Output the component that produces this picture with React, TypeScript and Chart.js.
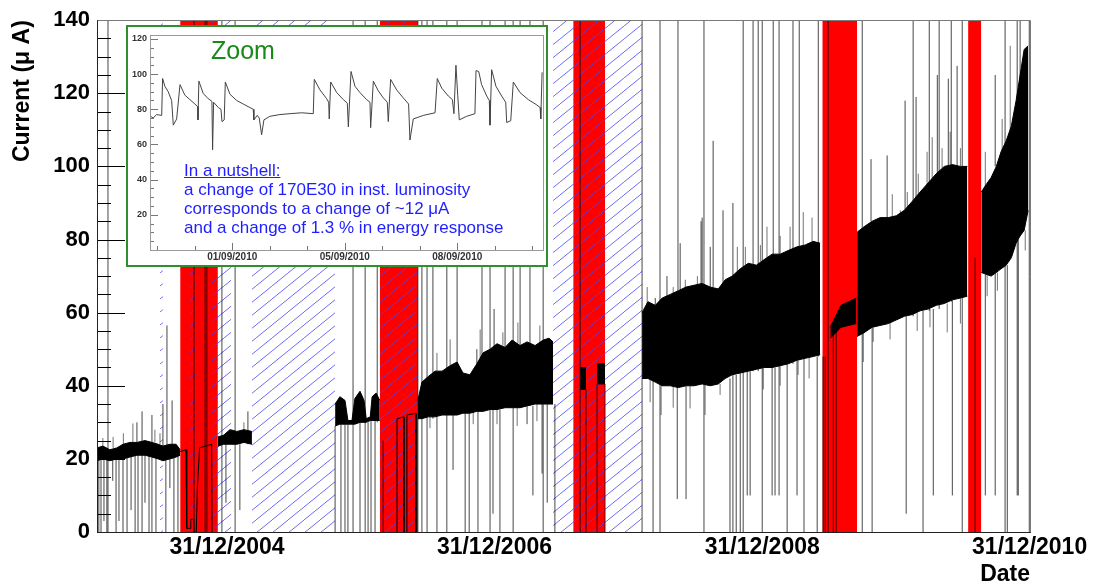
import React, { useEffect, useRef } from 'react';
import { Chart, registerables } from 'chart.js';

Chart.register(...registerables);

const FONT = '"Liberation Sans", Arial, Helvetica, sans-serif';

// ---------------- main chart: axes ----------------
const xAxisMin = '2004-01-11';
const xAxisMax = '2011-01-01';
const xTickDates = ['2004-12-31', '2006-12-31', '2008-12-31', '2010-12-31'];
const yAxisMax = 140;
const yMajorStep = 20;
const yMinorStep = 5;

// shutdown periods (red) and hatched periods
const shutdownStart = ['2004-08-25', '2006-02-21', '2007-08-03', '2009-06-13', '2010-07-16'];
const shutdownEnd = ['2004-12-06', '2006-06-05', '2007-10-29', '2009-09-16', '2010-08-21'];
const hatchStart = ['2004-07-01', '2004-09-21', '2004-11-20', '2005-03-09', '2006-02-21', '2007-06-09'];
const hatchEnd = ['2004-07-09', '2004-10-07', '2005-01-11', '2005-10-22', '2006-06-05', '2008-02-07'];

// dense current band: lower / upper envelope (null = gap between runs)
const bandDates = [
  '2004-01-11', '2004-01-27', '2004-02-15', '2004-03-05', '2004-03-22', '2004-04-10', '2004-04-29', '2004-05-21', '2004-06-09', '2004-06-26', '2004-07-09', '2004-07-28', '2004-08-14', '2004-08-25', null,
  '2004-12-06', '2004-12-22', '2005-01-08', '2005-01-27', '2005-02-15', '2005-03-09', null,
  '2005-10-22', '2005-11-04', '2005-11-18', '2005-11-26', '2005-12-07', '2005-12-15', '2005-12-29', '2006-01-09', '2006-01-15', '2006-01-26', '2006-01-31', '2006-02-11', '2006-02-21', null,
  '2006-06-05', '2006-06-16', '2006-07-03', '2006-07-22', '2006-08-10', '2006-09-01', '2006-09-20', '2006-10-06', '2006-10-25', '2006-11-13', '2006-11-30', '2006-12-19', '2007-01-07', '2007-01-29', '2007-02-17', '2007-03-11', '2007-03-30', '2007-04-21', '2007-05-13', '2007-05-29', '2007-06-09', null,
  '2007-08-22', '2007-09-07', null,
  '2007-10-07', '2007-10-29', null,
  '2008-02-07', '2008-02-23', '2008-03-14', '2008-04-02', '2008-04-24', '2008-05-16', '2008-06-06', '2008-06-28', '2008-07-20', '2008-08-11', '2008-09-02', '2008-09-21', '2008-10-10', '2008-11-01', '2008-11-23', '2008-12-15', '2009-01-05', '2009-01-27', '2009-02-18', '2009-03-12', '2009-04-05', '2009-04-27', '2009-05-19', '2009-06-07', null,
  '2009-07-05', '2009-08-03', '2009-09-14', null,
  '2009-09-16', '2009-10-05', '2009-10-27', '2009-11-18', '2009-12-10', '2010-01-01', '2010-01-23', '2010-02-14', '2010-03-07', '2010-03-29', '2010-04-20', '2010-05-12', '2010-06-03', '2010-06-25', '2010-07-14', null,
  '2010-08-21', '2010-09-03', '2010-09-17', '2010-10-01', '2010-10-14', '2010-10-28', '2010-11-11', '2010-11-24', '2010-12-05', '2010-12-16', '2010-12-27',
];
const bandLow = [
  19.5, 20, 19.5, 20, 20, 20.5, 21, 21, 20.5, 20, 19.5, 20, 20.5, 21, null,
  23.5, 24, 24, 24, 24.5, 24, null,
  29, 29.5, 29.5, 29.5, 29.5, 29.5, 30, 30, 30, 30.5, 30.5, 30.5, 30.5, null,
  31, 31, 31.5, 31.5, 32, 32, 32, 32.5, 32.5, 33, 33, 33.5, 33.5, 34, 34, 34, 34.5, 35, 35, 35, 35, null,
  39, 39, null,
  40.5, 40.5, null,
  42, 42, 41, 40, 40, 39.5, 40, 40, 40.5, 40, 40.5, 42, 43, 43.5, 44, 44.5, 45, 45, 45.5, 46, 47, 47.5, 48, 48.5, null,
  53, 56, 57, null,
  53.5, 54.5, 56, 56.5, 57, 58, 59, 59.5, 60.5, 61, 62, 62.5, 63.5, 64, 64.5, null,
  71, 70.5, 70, 71, 72, 73, 75, 79, 81, 82.5, 88,
];
const bandHigh = [
  23, 23.5, 22.5, 23, 24, 24.5, 24.5, 25, 24.5, 24, 23.5, 24, 24, 22.5, null,
  26, 26.5, 28, 27.5, 28, 27.5, null,
  35, 37, 36, 30.5, 30.5, 36.5, 38.5, 36, 31, 31.5, 37, 38, 36, null,
  36, 41, 42.5, 44, 44, 45.5, 46.5, 43.5, 43, 46, 49, 50, 51.5, 50.5, 52.5, 51, 52, 51, 52.5, 53, 52, null,
  45, 45, null,
  46, 46, null,
  60, 63, 62, 64, 65, 66, 67, 67.5, 68, 67, 66.5, 69, 70, 72, 73.5, 73, 74.5, 76, 76, 77, 78, 78.5, 79.5, 79, null,
  56, 62, 64, null,
  82, 83.5, 85, 86, 86, 86.5, 88, 90.5, 93, 95.5, 98, 100, 100.5, 100, 100, null,
  93, 95, 97, 100, 104, 107, 111, 118, 125, 132, 133,
];

// isolated excursions (vertical lines): date, lowest value, highest value
const spikeDates = [
  '2004-02-10', '2004-01-16', '2004-01-22', '2004-01-30', '2004-02-07', '2004-02-23', '2004-03-03', '2004-03-11', '2004-03-22', '2004-04-02',
  '2004-04-13', '2004-04-24', '2004-04-29', '2004-05-02', '2004-05-13', '2004-05-21', '2004-06-01', '2004-06-09', '2004-06-20', '2004-07-09',
  '2004-07-17', '2004-07-20', '2004-07-28', '2004-08-03', '2004-08-08', '2004-08-19',
  '2004-10-02', '2004-11-01', '2004-11-06',
  '2004-12-17', '2004-12-28', '2005-01-22', '2005-02-04', '2005-02-26',
  '2005-10-22', '2005-11-07', '2005-11-18', '2005-11-26', '2005-12-10', '2005-12-29', '2006-01-12', '2006-01-20', '2006-01-28', '2006-02-08', '2006-02-14',
  '2006-03-02', '2006-06-05',
  '2006-06-16', '2006-06-30', '2006-07-16', '2006-07-27', '2006-08-23', '2006-09-09', '2006-09-20', '2006-10-12', '2006-10-23', '2006-11-13',
  '2006-11-16', '2006-11-27', '2006-12-19', '2006-12-27', '2006-12-30', '2007-01-15', '2007-01-29', '2007-02-20', '2007-03-11', '2007-03-30',
  '2007-04-07', '2007-04-15', '2007-05-10', '2007-05-13', '2007-05-24', '2007-06-14',
  '2007-08-22', '2007-09-07', '2007-10-07', '2007-10-29', '2008-02-07',
  '2008-03-08', '2008-03-14', '2008-03-27', '2008-04-15', '2008-05-13', '2008-05-15', '2008-05-21', '2008-06-06', '2008-07-17', '2008-07-20',
  '2008-07-25', '2008-08-11', '2008-08-19', '2008-09-15', '2008-10-04', '2008-10-12', '2008-10-21', '2008-11-01', '2008-11-09', '2008-11-20',
  '2008-11-28', '2008-12-06', '2008-12-20', '2008-12-31', '2009-01-27', '2009-01-30', '2009-02-04', '2009-02-15', '2009-03-09', '2009-03-25',
  '2009-04-05', '2009-04-11', '2009-04-24', '2009-05-30', '2009-06-02',
  '2009-06-15', '2009-06-21', '2009-06-29', '2009-07-13', '2009-07-21',
  '2009-09-30', '2009-10-24', '2009-10-27', '2009-12-07', '2010-01-25', '2010-01-28', '2010-02-16', '2010-02-24', '2010-03-15', '2010-04-01',
  '2010-04-12', '2010-04-23', '2010-04-28', '2010-05-23', '2010-05-31', '2010-06-03', '2010-06-16', '2010-06-30',
  '2010-08-04',
  '2010-09-01', '2010-09-28', '2010-09-28', '2010-10-25', '2010-10-31', '2010-11-27', '2010-11-30', '2010-12-05', '2010-12-30',
];
const spikeLow = [
  0, 0, 0, 3, 0, 14, 0, 3, 0, 0,
  6, 0, 21, 0, 0, 8, 0, 0, 0, 20,
  0, 20, 12, 20, 0, 0,
  0, 0, 0,
  0, 8, 0, 6, 24,
  0, 0, 0, 0, 0, 0, 0, 0, 0, 0, 30,
  0, 0,
  0, 0, 31, 0, 0, 17, 32, 0, 0, 33,
  0, 33, 0, 5, 33.5, 0, 34, 0, 34, 29.5,
  34.5, 10, 16, 0, 8, 0,
  0, 0, 0, 0, 0,
  0, 62, 0, 64, 9, 40, 66, 9, 68, 68,
  0, 67, 67, 66.5, 0, 0, 0, 0, 0, 10,
  10, 44, 44, 0, 10, 45, 10, 10, 0, 46,
  10, 47, 0, 0, 48,
  0, 0, 0, 0, 0,
  0, 85, 0, 86, 88, 5, 59, 90, 0, 60.5,
  10, 98, 61, 100, 63, 10, 100, 0,
  0,
  10, 10, 100, 0, 0, 10, 10, 81, 0,
];
const spikeHigh = [
  140, 20, 20, 20, 20, 20, 20, 20, 20, 20.5,
  21, 21, 30, 21, 33, 21, 21, 32, 20.5, 35,
  20, 56.5, 20, 36, 20.5, 21,
  140, 140, 140,
  140, 24, 140, 24, 33,
  29, 29.5, 29.5, 29.5, 140, 30, 140, 30, 30.5, 30.5, 140,
  25, 140,
  140, 140, 140, 31.5, 140, 32, 140, 32.5, 32.5, 50,
  33, 140, 140, 33.5, 61, 33.5, 140, 140, 140, 34.5,
  140, 34.5, 35, 140, 35, 35,
  140, 39, 40.5, 40.5, 140,
  42, 64, 140, 70, 40, 140, 79, 40, 85, 86,
  140, 78, 107, 88, 42, 90, 43, 43.5, 140, 44,
  44, 140, 140, 140, 45, 140, 45, 140, 46, 140,
  47, 140, 47.5, 48, 140,
  48, 48, 140, 54, 55,
  140, 102, 56, 103, 118, 59, 140, 119, 60.5, 140,
  61, 125, 140, 124, 140, 63.5, 127.5, 140,
  75,
  70.5, 71, 125, 140, 73, 140, 80, 140, 140,
];

// short excursions fringing the band edges: date, lowest value, highest value
const fringeDates = [
  '2004-01-27', '2004-02-24', '2004-03-23', '2004-04-18', '2004-06-17', '2004-07-01', '2005-02-15',
  '2006-07-08', '2006-07-27', '2006-09-01', '2006-11-03', '2006-11-22', '2007-01-07', '2007-01-23', '2007-03-03', '2007-03-05', '2007-04-26', '2007-05-04',
  '2008-02-21', '2008-02-29', '2008-03-30', '2008-05-02', '2008-05-02', '2008-06-04', '2008-06-17', '2008-07-07', '2008-07-28', '2008-09-07',
  '2008-10-24', '2008-11-15', '2008-12-26', '2009-01-03', '2009-01-13', '2009-02-18', '2009-02-18', '2009-03-17', '2009-04-08', '2009-04-22',
  '2009-05-08', '2009-05-16',
  '2009-10-03', '2009-10-30', '2009-12-15', '2009-12-21', '2010-01-12', '2010-01-31', '2010-02-27', '2010-03-02', '2010-03-26', '2010-04-03',
  '2010-04-09', '2010-05-06', '2010-05-20', '2010-05-28', '2010-06-25', '2010-06-25',
  '2010-09-01', '2010-09-06', '2010-10-04', '2010-10-17', '2010-11-08', '2010-12-19',
];
const fringeLow = [
  23.5, 23, 24, 24.5, 24.5, 24, 28,
  28.4, 44, 45.5, 29.5, 47.5, 29.5, 51, 29, 51.5, 30.3, 52,
  60, 35.5, 32, 65, 34, 66.5, 33.8, 67.5, 32, 37.5,
  71, 72.5, 74, 39, 75, 76, 40, 77, 43, 78.5,
  42, 79.5,
  46.5, 52, 52.7, 86, 86.5, 88, 55, 92, 95, 56,
  96.5, 99.5, 54.6, 100.5, 100, 57,
  94, 64.5, 66, 104, 110, 77,
];
const fringeHigh = [
  25.7, 26, 27, 29.7, 28, 27, 30,
  31.5, 49, 52.7, 33, 55.4, 33.5, 54.6, 34, 57.3, 35, 56.5,
  67, 42, 40, 67, 40, 69, 40, 70, 40.5, 40.5,
  78, 78, 78.5, 45, 83.5, 81, 45.5, 83.5, 47, 87.5,
  48, 86,
  54.5, 56, 57.5, 92.4, 88, 93, 60, 98, 104, 61,
  108, 105, 62.5, 109.5, 105, 64,
  104, 70.5, 71, 113, 133, 82.5,
];

// thin current trace seen inside the shutdown periods
const innerDates = [
  '2004-08-25', '2004-09-10', '2004-09-12', '2004-09-21', '2004-09-23', '2004-10-01', '2004-10-02', '2004-10-08', '2004-10-11', '2004-10-17', '2004-11-19', '2004-11-20', null,
  '2006-04-09', '2006-04-09', '2006-04-28', '2006-04-28', null,
  '2006-05-06', '2006-05-06', '2006-05-31', '2006-05-31',
];
const innerValues = [
  22, 22.5, 1, 1, 3.5, 3.5, 0, 0, 12, 23, 24, 0, null,
  0, 31, 31.5, 0, null,
  0, 32, 32.5, 0,
];

// ---------------- inset ("Zoom") ----------------
const insetMin = '2010-08-29T22:36';
const insetMax = '2010-09-11T04:00';
const insetYMax = 122;
const insetTickBase = '2010-09-01T12:00';
const insetMinorHours = 28;
const insetMajorEvery = 3;
const insetYLabels = [20, 40, 60, 80, 100, 120];
const insetTimes = [
  '2010-08-29T23:00', '2010-08-30T01:00', '2010-08-30T03:30', '2010-08-30T07:20', '2010-08-30T08:00', '2010-08-30T09:45', '2010-08-30T12:10', '2010-08-30T14:45', '2010-08-30T16:00', '2010-08-30T18:30',
  '2010-08-30T21:00', '2010-08-31T00:40', '2010-08-31T04:25', '2010-08-31T08:05', '2010-08-31T10:10', '2010-08-31T10:25', '2010-08-31T11:05', '2010-08-31T14:20', '2010-08-31T18:05', '2010-08-31T20:50',
  '2010-08-31T21:20', '2010-08-31T22:05', '2010-09-01T01:35', '2010-09-01T03:35', '2010-09-01T04:20', '2010-09-01T06:00', '2010-09-01T06:50', '2010-09-01T10:20', '2010-09-01T15:20', '2010-09-01T20:10',
  '2010-09-02T01:10', '2010-09-02T03:40', '2010-09-02T04:10', '2010-09-02T06:40', '2010-09-02T08:10', '2010-09-02T09:55', '2010-09-02T11:40', '2010-09-02T16:05', '2010-09-02T23:35', '2010-09-03T07:05',
  '2010-09-03T15:50', '2010-09-04T00:30', '2010-09-04T01:15', '2010-09-04T05:30', '2010-09-04T10:30', '2010-09-04T12:00', '2010-09-04T12:25', '2010-09-04T13:30', '2010-09-04T18:00', '2010-09-04T22:55',
  '2010-09-05T01:55', '2010-09-05T02:40', '2010-09-05T04:40', '2010-09-05T07:40', '2010-09-05T11:20', '2010-09-05T16:20', '2010-09-05T18:50', '2010-09-05T19:20', '2010-09-05T21:20', '2010-09-06T01:00',
  '2010-09-06T04:45', '2010-09-06T07:45', '2010-09-06T08:30', '2010-09-06T10:15', '2010-09-06T14:45', '2010-09-06T19:40', '2010-09-06T23:40', '2010-09-07T00:40', '2010-09-07T03:10', '2010-09-07T10:35',
  '2010-09-07T19:25', '2010-09-07T21:05', '2010-09-08T00:25', '2010-09-08T05:20', '2010-09-08T08:20', '2010-09-08T09:30', '2010-09-08T11:00', '2010-09-08T12:20', '2010-09-08T13:30', '2010-09-08T19:00',
  '2010-09-09T01:10', '2010-09-09T02:00', '2010-09-09T04:00', '2010-09-09T06:10', '2010-09-09T10:00', '2010-09-09T11:55', '2010-09-09T12:25', '2010-09-09T13:40', '2010-09-09T16:55', '2010-09-09T21:10',
  '2010-09-10T00:10', '2010-09-10T00:55', '2010-09-10T03:55', '2010-09-10T05:50', '2010-09-10T10:50', '2010-09-10T17:00', '2010-09-10T23:20', '2010-09-11T01:50', '2010-09-11T02:20', '2010-09-11T03:20',
];
const insetValues = [
  76, 75, 77, 76.5, 97.5, 93, 90, 85, 71, 74.5,
  94, 88, 85.5, 83, 81.5, 74, 96, 89, 86, 84.5,
  57, 84, 81, 80, 73, 74, 95.5, 88.5, 85, 83,
  81, 80, 74, 76.5, 75, 65.5, 74, 76, 77, 77.5,
  78, 77.5, 97, 91, 86, 84, 74.5, 95.5, 89.5, 85.5,
  83.5, 70, 101.5, 93, 89.5, 85.5, 84, 69.5, 96, 90.5,
  86.5, 84, 73, 97, 91, 86.5, 83, 62.5, 74.5, 76.5,
  78, 97.5, 92, 87.5, 85.5, 77.5, 105, 88, 74, 76,
  77.5, 102, 101.5, 94, 87.5, 85, 71, 102.5, 93, 87.5,
  84, 72.5, 73.5, 95.5, 89.5, 85.5, 82.5, 81, 74.5, 101,
];

// ---------------- helpers ----------------
const toMs = (s: string) => Date.parse(s.length === 10 ? `${s}T00:00:00Z` : `${s}:00Z`);
const pad2 = (n: number) => String(n).padStart(2, '0');
const fmtDate = (ms: number) => {
  const d = new Date(ms);
  return `${pad2(d.getUTCDate())}/${pad2(d.getUTCMonth() + 1)}/${d.getUTCFullYear()}`;
};
const HOUR = 3600 * 1000;

function makeHatch(): CanvasPattern | string {
  const w = 16, h = 13;
  const c = document.createElement('canvas');
  c.width = w; c.height = h;
  const g = c.getContext('2d');
  if (!g) return 'rgba(90,90,255,0.3)';
  g.strokeStyle = 'rgba(70,70,250,0.8)';
  g.lineWidth = 1;
  g.beginPath();
  g.moveTo(0, h); g.lineTo(w, 0);
  g.moveTo(-w, h); g.lineTo(0, 0);
  g.moveTo(w, h); g.lineTo(2 * w, 0);
  g.stroke();
  return g.createPattern(c, 'repeat') || 'rgba(90,90,255,0.3)';
}

function segmentPoints(dates: string[], lows: number[], highs: number[]) {
  const pts: any[] = [];
  dates.forEach((d, i) => {
    const t = toMs(d);
    pts.push({ x: t, y: lows[i] }, { x: t, y: highs[i] }, { x: t, y: null });
  });
  return pts;
}

const mainFramePlugin = {
  id: 'mainFrame',
  afterDatasetsDraw(chart: any) {
    const { ctx, chartArea: a, scales } = chart;
    const y = scales.y;
    ctx.save();
    ctx.lineWidth = 1;
    ctx.strokeStyle = '#000';
    for (let v = 0; v <= yAxisMax; v += yMinorStep) {
      const py = Math.round(y.getPixelForValue(v)) + 0.5;
      const len = v % yMajorStep === 0 ? 28 : 14;
      ctx.beginPath(); ctx.moveTo(a.left, py); ctx.lineTo(a.left + len, py); ctx.stroke();
    }
    ctx.strokeStyle = '#7a7a7a';
    ctx.beginPath();
    ctx.moveTo(a.left, Math.round(a.top) + 0.5);
    ctx.lineTo(Math.round(a.right) + 0.5, Math.round(a.top) + 0.5);
    ctx.lineTo(Math.round(a.right) + 0.5, a.bottom);
    ctx.stroke();
    ctx.strokeStyle = '#222';
    ctx.beginPath();
    ctx.moveTo(Math.round(a.left) + 0.5, a.top);
    ctx.lineTo(Math.round(a.left) + 0.5, Math.round(a.bottom) + 0.5);
    ctx.lineTo(a.right + 1, Math.round(a.bottom) + 0.5);
    ctx.stroke();
    ctx.restore();
  },
};

const insetFramePlugin = {
  id: 'insetFrame',
  afterDatasetsDraw(chart: any) {
    const { ctx, chartArea: a, scales } = chart;
    const { x, y } = scales;
    ctx.save();
    ctx.lineWidth = 1;
    ctx.strokeStyle = '#777';
    for (let v = 0; v <= 120; v += 5) {
      const py = Math.round(y.getPixelForValue(v)) + 0.5;
      const len = v % 20 === 0 ? 8 : 4;
      ctx.beginPath(); ctx.moveTo(a.left, py); ctx.lineTo(a.left + len, py); ctx.stroke();
    }
    const base = toMs(insetTickBase);
    const lo = toMs(insetMin), hi = toMs(insetMax);
    for (let k = -10; k <= 20; k++) {
      const t = base + k * insetMinorHours * HOUR;
      if (t < lo || t > hi) continue;
      const px = Math.round(x.getPixelForValue(t)) + 0.5;
      const len = k % insetMajorEvery === 0 ? 7 : 4;
      ctx.beginPath(); ctx.moveTo(px, a.bottom); ctx.lineTo(px, a.bottom - len); ctx.stroke();
    }
    ctx.strokeStyle = '#9a9a9a';
    ctx.strokeRect(Math.round(a.left) + 0.5, Math.round(a.top) + 0.5, Math.round(a.right - a.left), Math.round(a.bottom - a.top));
    ctx.restore();
  },
};

function buildMainConfig(hatch: CanvasPattern | string): any {
  const datasets: any[] = [];
  const base = { type: 'line', pointRadius: 0, pointHoverRadius: 0, tension: 0 };

  datasets.push({
    ...base,
    data: innerDates.map((d, i) => ({ x: d === null ? NaN : toMs(d), y: innerValues[i] })),
    borderColor: '#000', borderWidth: 1, fill: false, spanGaps: false, order: 10,
  });
  datasets.push({
    ...base, data: segmentPoints(spikeDates, spikeLow, spikeHigh), borderColor: 'rgba(0,0,0,0.72)', borderWidth: 1, fill: false, spanGaps: false, order: 20,
  });
  datasets.push({
    ...base, data: segmentPoints(fringeDates, fringeLow, fringeHigh), borderColor: 'rgba(0,0,0,0.55)', borderWidth: 1, fill: false, spanGaps: false, order: 21,
  });

  const segs: any[] = [];
  let cur: any[] = [];
  bandDates.forEach((d, i) => {
    if (d === null) { if (cur.length) segs.push(cur); cur = []; }
    else cur.push({ t: toMs(d), lo: bandLow[i], hi: bandHigh[i] });
  });
  if (cur.length) segs.push(cur);
  segs.forEach((seg) => {
    datasets.push({ ...base, data: seg.map((p: any) => ({ x: p.t, y: p.lo })), borderColor: '#000', borderWidth: 1, fill: false, order: 30 });
    datasets.push({ ...base, data: seg.map((p: any) => ({ x: p.t, y: p.hi })), borderColor: '#000', borderWidth: 1, fill: '-1', backgroundColor: '#000', order: 30 });
  });

  hatchStart.forEach((s, i) => {
    datasets.push({
      ...base, data: [{ x: toMs(s), y: yAxisMax }, { x: toMs(hatchEnd[i]), y: yAxisMax }],
      borderColor: 'transparent', borderWidth: 0, fill: 'origin', backgroundColor: hatch, order: 40,
    });
  });
  shutdownStart.forEach((s, i) => {
    datasets.push({
      ...base, data: [{ x: toMs(s), y: yAxisMax }, { x: toMs(shutdownEnd[i]), y: yAxisMax }],
      borderColor: 'transparent', borderWidth: 0, fill: 'origin', backgroundColor: '#ff0000', order: 50,
    });
  });

  return {
    type: 'line',
    data: { datasets },
    plugins: [mainFramePlugin],
    options: {
      responsive: false,
      animation: false,
      devicePixelRatio: 1,
      events: [],
      layout: { padding: { left: 0, top: 14, right: 65, bottom: 0 } },
      plugins: { legend: { display: false }, tooltip: { enabled: false } },
      scales: {
        x: {
          type: 'linear',
          min: toMs(xAxisMin),
          max: toMs(xAxisMax),
          afterBuildTicks: (s: any) => { s.ticks = xTickDates.map((d) => ({ value: toMs(d) })); },
          ticks: {
            callback: (v: any) => fmtDate(Number(v)),
            font: { size: 23, weight: 'bold', family: FONT },
            color: '#000', padding: 2, maxRotation: 0, autoSkip: false,
          },
          grid: { display: false, drawTicks: false },
          border: { display: false },
          title: { display: true, text: 'Date', align: 'end', font: { size: 23, weight: 'bold', family: FONT }, color: '#000', padding: 0 },
          afterFit: (s: any) => { s.height = 56; },
        },
        y: {
          type: 'linear',
          min: 0,
          max: yAxisMax,
          afterBuildTicks: (s: any) => {
            const t: any[] = [];
            for (let v = 0; v <= yAxisMax; v += yMajorStep) t.push({ value: v });
            s.ticks = t;
          },
          ticks: { font: { size: 22, weight: 'bold', family: FONT }, color: '#000', padding: 7 },
          grid: { display: false, drawTicks: false },
          border: { display: false },
          title: { display: true, text: 'Current (μ A)', align: 'end', font: { size: 23, weight: 'bold', family: FONT }, color: '#000', padding: { top: 9, bottom: 0 } },
          afterFit: (s: any) => { s.width = 97; },
        },
      },
    },
  };
}

function buildInsetConfig(): any {
  const base = toMs(insetTickBase);
  return {
    type: 'line',
    data: {
      datasets: [{
        data: insetTimes.map((t, i) => ({ x: toMs(t), y: insetValues[i] })),
        borderColor: '#444', borderWidth: 1, pointRadius: 0, fill: false, tension: 0,
      }],
    },
    plugins: [insetFramePlugin],
    options: {
      responsive: false,
      animation: false,
      devicePixelRatio: 1,
      events: [],
      layout: { padding: { left: 0, top: 4, right: 3, bottom: 0 } },
      plugins: { legend: { display: false }, tooltip: { enabled: false } },
      scales: {
        x: {
          type: 'linear',
          min: toMs(insetMin),
          max: toMs(insetMax),
          afterBuildTicks: (s: any) => {
            const t: any[] = [];
            for (let k = 0; k < 3; k++) t.push({ value: base + k * insetMajorEvery * insetMinorHours * HOUR });
            s.ticks = t;
          },
          ticks: { callback: (v: any) => fmtDate(Number(v)), font: { size: 10, weight: 'bold', family: FONT }, color: '#333', padding: 1, maxRotation: 0, autoSkip: false },
          grid: { display: false, drawTicks: false },
          border: { display: false },
          afterFit: (s: any) => { s.height = 15; },
        },
        y: {
          type: 'linear',
          min: 0,
          max: insetYMax,
          afterBuildTicks: (s: any) => { s.ticks = insetYLabels.map((v) => ({ value: v })); },
          ticks: { font: { size: 9, weight: 'bold', family: FONT }, color: '#333', padding: 3 },
          grid: { display: false, drawTicks: false },
          border: { display: false },
          afterFit: (s: any) => { s.width = 22; },
        },
      },
    },
  };
}

export default function App() {
  const mainRef = useRef<HTMLCanvasElement>(null);
  const insetRef = useRef<HTMLCanvasElement>(null);

  useEffect(() => {
    Chart.defaults.font.family = FONT;
    const hatch = makeHatch();
    const main = new Chart(mainRef.current as HTMLCanvasElement, buildMainConfig(hatch));
    const inset = new Chart(insetRef.current as HTMLCanvasElement, buildInsetConfig());
    return () => { main.destroy(); inset.destroy(); };
  }, []);

  return (
    <div style={{ position: 'fixed', left: 0, top: 0, width: 1095, height: 588, background: '#fff', overflow: 'hidden' }}>
      <canvas ref={mainRef} width={1095} height={588} style={{ position: 'absolute', left: 0, top: 0, width: 1095, height: 588 }} />
      <div style={{ position: 'absolute', left: 126, top: 25, width: 418, height: 238, border: '2px solid #2f8f2f', background: '#fff' }}>
        <canvas ref={insetRef} width={418} height={238} style={{ position: 'absolute', left: 0, top: 0, width: 418, height: 238 }} />
        <div style={{ position: 'absolute', left: 83, top: 11, font: `25px ${FONT}`, lineHeight: '25px', color: '#188a18', whiteSpace: 'nowrap' }}>Zoom</div>
        <div style={{ position: 'absolute', left: 56, top: 134, font: `17px ${FONT}`, lineHeight: '19px', color: '#1e1eff', whiteSpace: 'nowrap' }}>
          <span style={{ textDecoration: 'underline' }}>In a nutshell:</span><br />
          a change of 170E30 in inst. luminosity<br />
          corresponds to a change of ~12 μA<br />
          and a change of 1.3 % in energy response
        </div>
      </div>
    </div>
  );
}
